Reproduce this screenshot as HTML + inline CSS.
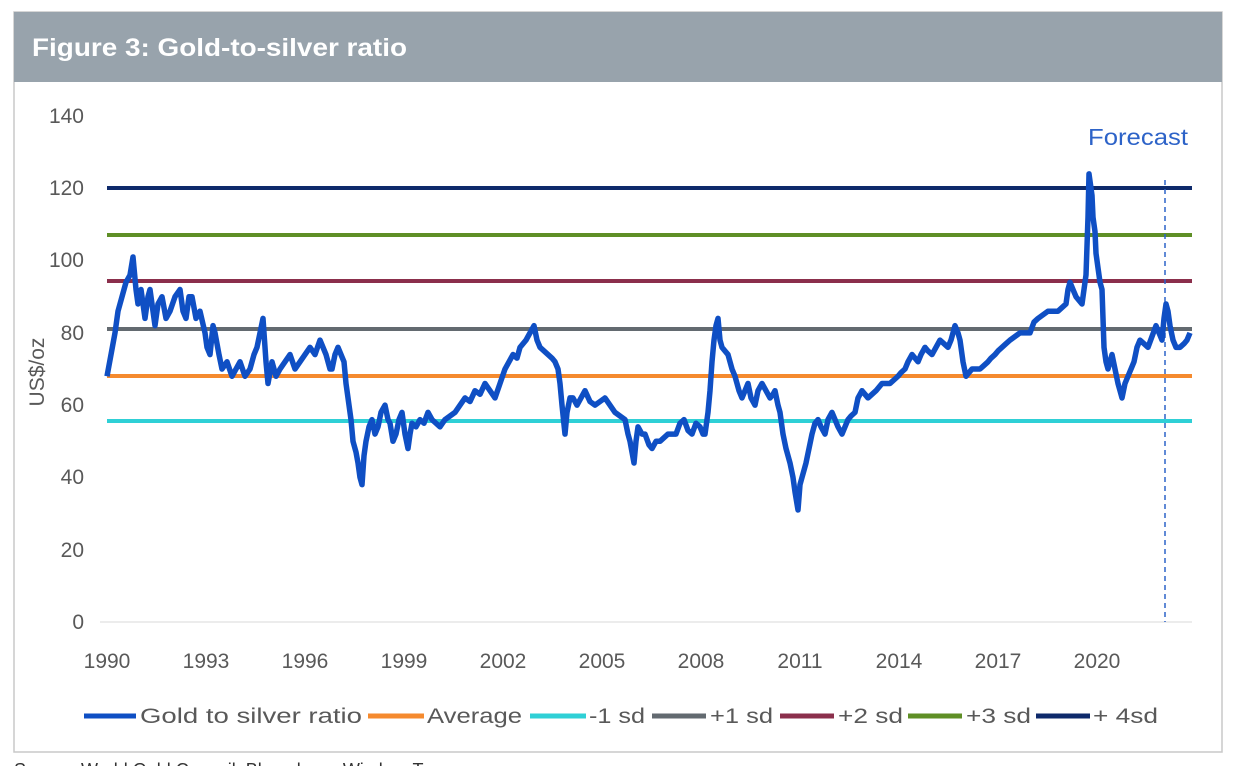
<!DOCTYPE html>
<html><head><meta charset="utf-8"><style>
body{margin:0;width:1238px;height:766px;background:#fff;overflow:hidden;font-family:"Liberation Sans",sans-serif}
</style></head><body>
<svg width="1238" height="766" xmlns="http://www.w3.org/2000/svg" font-family="Liberation Sans, sans-serif">
<rect x="14" y="12" width="1208" height="740" fill="#fff" stroke="#c8c8c8" stroke-width="1.5"/>
<rect x="14" y="12" width="1208" height="70" fill="#98a3ac"/>
<text x="32" y="56" font-size="25" font-weight="bold" fill="#fff" textLength="375" lengthAdjust="spacingAndGlyphs">Figure 3: Gold-to-silver ratio</text>
<g font-size="21" fill="#595959" text-anchor="end">
<text x="84" y="123">140</text><text x="84" y="195">120</text><text x="84" y="267">100</text>
<text x="84" y="340">80</text><text x="84" y="412">60</text><text x="84" y="484">40</text>
<text x="84" y="557">20</text><text x="84" y="629">0</text>
</g>
<text transform="translate(44,372) rotate(-90)" font-size="21" fill="#595959" text-anchor="middle">US$/oz</text>
<line x1="100" y1="622" x2="1192" y2="622" stroke="#d9d9d9" stroke-width="1"/>
<g font-size="21" fill="#595959" text-anchor="middle">
<text x="107" y="668">1990</text><text x="206" y="668">1993</text><text x="305" y="668">1996</text>
<text x="404" y="668">1999</text><text x="503" y="668">2002</text><text x="602" y="668">2005</text>
<text x="701" y="668">2008</text><text x="800" y="668">2011</text><text x="899" y="668">2014</text>
<text x="998" y="668">2017</text><text x="1097" y="668">2020</text>
</g>
<line x1="107" y1="188" x2="1192" y2="188" stroke="#0e2a6b" stroke-width="4"/>
<line x1="107" y1="235" x2="1192" y2="235" stroke="#5f8f26" stroke-width="4"/>
<line x1="107" y1="281" x2="1192" y2="281" stroke="#8b2f4c" stroke-width="4"/>
<line x1="107" y1="329" x2="1192" y2="329" stroke="#636a70" stroke-width="4"/>
<line x1="107" y1="376" x2="1192" y2="376" stroke="#f58a2e" stroke-width="4"/>
<line x1="107" y1="421" x2="1192" y2="421" stroke="#2fd0d6" stroke-width="4"/>
<line x1="1165" y1="180" x2="1165" y2="622" stroke="#2d63c8" stroke-width="1.5" stroke-dasharray="5,4"/>
<text x="1088" y="145" font-size="23" fill="#2d63c8" textLength="100" lengthAdjust="spacingAndGlyphs">Forecast</text>
<g transform="translate(0,622) scale(1,-3.614)">
<polyline fill="none" stroke="#0f4fc4" stroke-width="5.5" stroke-linejoin="round" vector-effect="non-scaling-stroke" points="107,68 111,74 115,80 118,86 122,90 126,94 130,96 133,101 136,92 138,88 141,92 145,84 148,90 150,92 153,86 155,82 158,88 162,90 166,84 170,86 175,90 180,92 183,86 186,84 189,90 192,90 196,84 200,86 205,80 207,76 210,74 213,82 215,80 219,74 222,70 227,72 232,68 236,70 240,72 245,68 250,70 254,74 257,76 260,80 263,84 266,72 268,66 272,72 276,68 280,70 285,72 290,74 295,70 300,72 305,74 310,76 315,74 320,78 326,74 330,70 332,70 335,74 338,76 341,74 344,72 346,66 348,62 351,56 353,50 356,47 358,44 360,40 362,38 364,46 366,50 369,54 372,56 375,52 378,54 381,58 385,60 388,56 390,55 393,50 396,52 399,56 402,58 405,52 408,48 410,52 412,55 416,54 420,56 424,55 428,58 432,56 436,55 440,54 445,56 450,57 455,58 460,60 465,62 470,61 475,64 480,63 485,66 490,64 495,62 500,66 505,70 509,72 513,74 517,73 520,76 523,77 526,78 530,80 534,82 537,78 540,76 544,75 548,74 552,73 555,72 558,70 560,66 562,60 565,52 567,58 570,62 573,62 577,60 581,62 585,64 590,61 595,60 600,61 605,62 610,60 615,58 620,57 625,56 628,52 630,50 632,47 634,44 636,50 638,54 642,52 645,52 649,49 652,48 656,50 660,50 664,51 668,52 672,52 676,52 680,55 684,56 688,53 692,52 696,55 700,54 703,52 705,52 708,58 710,64 712,72 714,78 716,82 718,84 720,78 722,76 725,75 728,74 732,70 735,68 739,64 742,62 745,64 748,66 751,62 755,60 758,64 762,66 766,64 770,62 773,63 775,64 778,60 780,58 783,52 786,48 788,46 790,44 793,40 795,36 798,31 800,38 802,40 804,42 806,44 809,48 812,52 815,55 818,56 821,54 825,52 828,56 832,58 835,56 838,54 840,53 842,52 845,54 848,56 851,57 855,58 858,62 862,64 865,63 868,62 872,63 876,64 879,65 882,66 886,66 890,66 894,67 898,68 901,69 905,70 908,72 912,74 915,73 918,72 921,74 925,76 928,75 932,74 936,76 940,78 944,77 948,76 951,78 955,82 958,80 960,78 963,72 966,68 969,69 972,70 976,70 980,70 984,71 988,72 991,73 995,74 998,75 1002,76 1006,77 1010,78 1015,79 1020,80 1025,80 1030,80 1034,83 1038,84 1043,85 1048,86 1053,86 1058,86 1062,87 1066,88 1068,92 1070,94 1073,92 1076,90 1079,89 1082,88 1084,92 1086,96 1088,112 1089,124 1090,122 1092,118 1093,112 1095,108 1096,102 1098,98 1100,94 1102,92 1103,84 1104,76 1106,72 1108,70 1110,72 1112,74 1115,70 1118,66 1120,64 1122,62 1125,66 1128,68 1131,70 1134,72 1137,76 1140,78 1144,77 1148,76 1152,79 1156,82 1159,80 1162,78 1164,84 1166,88 1168,86 1170,82 1173,78 1176,76 1180,76 1184,77 1187,78 1190,80"/>
</g>
<g font-size="21" fill="#595959" lengthAdjust="spacingAndGlyphs">
<line x1="84" y1="716" x2="136" y2="716" stroke="#0f4fc4" stroke-width="5"/><text x="140" y="723" textLength="222" lengthAdjust="spacingAndGlyphs">Gold to silver ratio</text>
<line x1="368" y1="716" x2="424" y2="716" stroke="#f58a2e" stroke-width="5"/><text x="427" y="723" textLength="95" lengthAdjust="spacingAndGlyphs">Average</text>
<line x1="530" y1="716" x2="586" y2="716" stroke="#2fd0d6" stroke-width="5"/><text x="589" y="723" textLength="56" lengthAdjust="spacingAndGlyphs">-1 sd</text>
<line x1="652" y1="716" x2="706" y2="716" stroke="#636a70" stroke-width="5"/><text x="710" y="723" textLength="63" lengthAdjust="spacingAndGlyphs">+1 sd</text>
<line x1="780" y1="716" x2="834" y2="716" stroke="#8b2f4c" stroke-width="5"/><text x="838" y="723" textLength="65" lengthAdjust="spacingAndGlyphs">+2 sd</text>
<line x1="908" y1="716" x2="962" y2="716" stroke="#5f8f26" stroke-width="5"/><text x="966" y="723" textLength="65" lengthAdjust="spacingAndGlyphs">+3 sd</text>
<line x1="1036" y1="716" x2="1090" y2="716" stroke="#0e2a6b" stroke-width="5"/><text x="1093" y="723" textLength="65" lengthAdjust="spacingAndGlyphs">+ 4sd</text>
</g>
<text x="14" y="776" font-size="18" fill="#333">Source: World Gold Council, Bloomberg, Wisdom Tree</text>
</svg>
</body></html>
